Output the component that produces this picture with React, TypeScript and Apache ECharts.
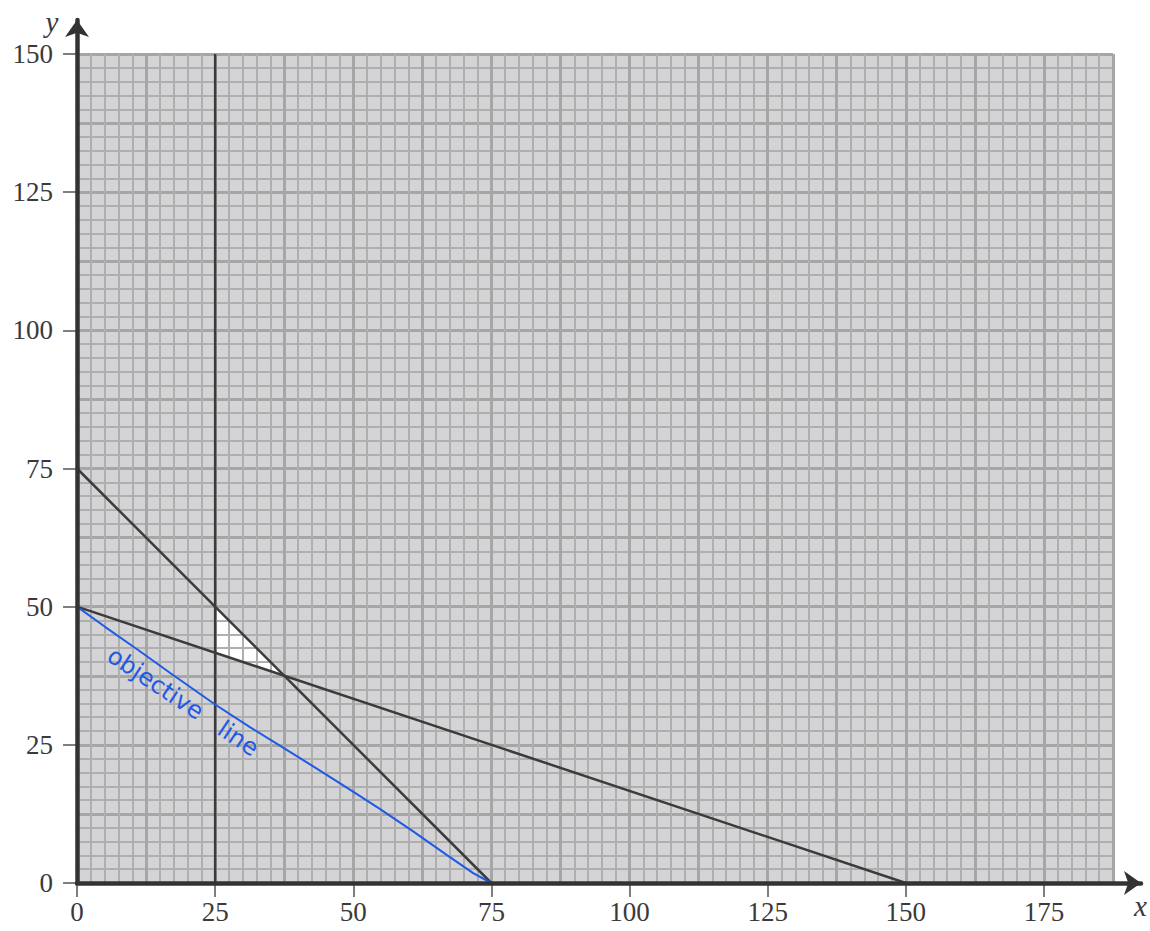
import React, { useEffect, useRef } from "react";
import * as echarts from "echarts";

// Tick labels
const xTicks = [0, 25, 50, 75, 100, 125, 150, 175];
const yTicks = [0, 25, 50, 75, 100, 125, 150];

// Axis extents of the graph-paper area
const xMax = 187.5;
const yMax = 150;

// Constraint lines
const lineXplusY = [
  [0, 75],
  [75, 0],
]; // x + y = 75
const lineXplus3Y = [
  [0, 50],
  [150, 0],
]; // x + 3y = 150
const lineX25 = [
  [25, 0],
  [25, 150],
]; // x = 25

// Hand-drawn objective line
const objectiveLine = [
  [0, 50],
  [5, 46.4],
  [11, 42.2],
  [17, 37.9],
  [25, 32.3],
  [31.3, 28.2],
  [37.3, 24.5],
  [43.4, 20.7],
  [49.4, 16.9],
  [54.8, 13.4],
  [60.9, 9.3],
  [66.9, 5.1],
  [71.7, 1.8],
  [75, 0],
];

// Feasible region (white triangle)
const feasibleRegion = [
  [25, 50],
  [25, 41.67],
  [37.5, 37.5],
];

export default function App() {
  const ref = useRef<HTMLDivElement>(null);

  useEffect(() => {
    if (!ref.current) return;
    const chart = echarts.init(ref.current, undefined, { renderer: "svg" });

    const labelFont = {
      fontFamily: "Liberation Serif",
      fontSize: 27,
      color: "#3a3a3a",
    };

    const lineSeries = (data: number[][], color: string, width: number) => ({
      type: "line",
      xAxisIndex: 0,
      yAxisIndex: 0,
      data,
      showSymbol: false,
      symbol: "none",
      smooth: false,
      z: 3,
      lineStyle: { color, width },
      silent: true,
    });

    const gridAxis = (max: number) => ({
      type: "value",
      gridIndex: 0,
      min: 0,
      max,
      interval: 12.5,
      z: 2,
      axisLine: { show: false },
      axisTick: { show: false },
      axisLabel: { show: false },
      splitLine: {
        show: true,
        lineStyle: { color: "#a6a6a6", width: 3 },
      },
      minorTick: { show: false, splitNumber: 5 },
      minorSplitLine: {
        show: true,
        lineStyle: { color: "#afafaf", width: 2 },
      },
    });

    const labelAxis = (max: number, ticks: number[], margin: number, position: string) => ({
      type: "value",
      gridIndex: 0,
      position,
      min: 0,
      max,
      interval: 25,
      z: 2,
      axisLine: { show: false, onZero: false },
      axisTick: {
        show: true,
        customValues: ticks,
        length: 14,
        lineStyle: { color: "#555", width: 1.5 },
      },
      axisLabel: {
        show: true,
        customValues: ticks,
        margin,
        ...labelFont,
      },
      splitLine: { show: false },
    });

    const arrowAxis = (position: string) => ({
      type: "value",
      gridIndex: 1,
      position,
      min: 0,
      max: 1,
      z: 5,
      axisLine: {
        show: true,
        onZero: false,
        symbol: ["none", "arrow"],
        symbolSize: [18, 17],
        lineStyle: { color: "#333333", width: 4.5 },
      },
      axisTick: { show: false },
      axisLabel: { show: false },
      splitLine: { show: false },
    });

    chart.setOption({
      animation: false,
      grid: [
        {
          left: 77,
          top: 54,
          width: 1036,
          height: 829,
          show: true,
          backgroundColor: "#d4d4d6",
          borderWidth: 0,
          z: 0,
        },
        {
          left: 77,
          top: 20,
          width: 1064,
          height: 863,
          show: false,
        },
      ],
      xAxis: [
        gridAxis(xMax),
        arrowAxis("bottom"),
        labelAxis(xMax, xTicks, 15, "bottom"),
      ],
      yAxis: [
        gridAxis(yMax),
        arrowAxis("left"),
        labelAxis(yMax, yTicks, 24, "left"),
      ],
      series: [
        {
          type: "custom",
          xAxisIndex: 0,
          yAxisIndex: 0,
          z: 1,
          silent: true,
          data: feasibleRegion,
          renderItem: (params: any, api: any) => {
            if (params.dataIndex !== 0) return null;
            return {
              type: "polygon",
              shape: { points: feasibleRegion.map((p) => api.coord(p)) },
              style: { fill: "#ffffff" },
            };
          },
        },
        lineSeries(lineX25, "#3b3b3b", 2.5),
        lineSeries(lineXplusY, "#3b3b3b", 2.5),
        lineSeries(lineXplus3Y, "#3b3b3b", 2.5),
        lineSeries(objectiveLine, "#1f5ae6", 2),
      ],
      graphic: [
        {
          type: "text",
          x: 52,
          y: 22,
          z: 10,
          style: {
            text: "y",
            fontFamily: "Liberation Serif",
            fontStyle: "italic",
            fontSize: 29,
            fill: "#3a3a3a",
            textAlign: "center",
            textVerticalAlign: "middle",
          },
        },
        {
          type: "text",
          x: 1134,
          y: 906,
          z: 10,
          style: {
            text: "x",
            fontFamily: "Liberation Serif",
            fontStyle: "italic",
            fontSize: 29,
            fill: "#3a3a3a",
            textAlign: "left",
            textVerticalAlign: "middle",
          },
        },
        {
          type: "text",
          x: 110,
          y: 653,
          z: 10,
          rotation: (-33.7 * Math.PI) / 180,
          style: {
            text: "objective   line",
            fontFamily: "DejaVu Sans",
            fontSize: 24,
            fill: "#1f5ae6",
            textAlign: "left",
            textVerticalAlign: "middle",
          },
        },
      ],
    });

    return () => chart.dispose();
  }, []);

  return (
    <div
      ref={ref}
      style={{ position: "absolute", left: 0, top: 0, width: 1150, height: 931 }}
    />
  );
}
